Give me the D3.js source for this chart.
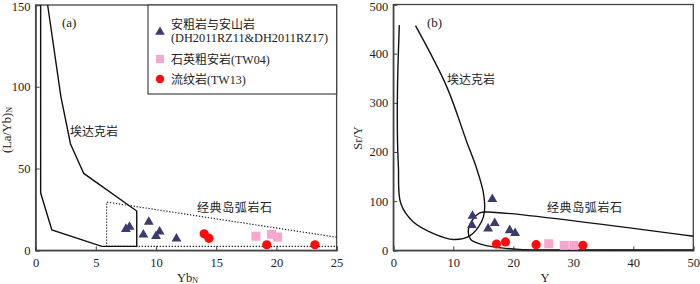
<!DOCTYPE html>
<html>
<head>
<meta charset="utf-8">
<script src="https://cdn.jsdelivr.net/npm/d3@7"></script>
<style>
  body { margin: 0; background: #fff; }
  text { font-family: "Liberation Serif", "Noto Sans CJK SC", serif; fill: #222; }
</style>
</head>
<body>
<div id="chart-area"></div>
<script>
// ---- data ----
// panel (a): YbN vs (La/Yb)N
var andesiteA = [[7.5,13.6],[7.8,14.9],[9.4,17.9],[8.95,10.2],[10.0,9.2],[10.3,12.0],[11.7,7.7]];
var trachyA   = [[18.3,8.6],[19.6,9.8],[20.1,8.1]];
var rhyoliteA = [[14.0,10.1],[14.4,7.3],[19.2,3.4],[23.2,3.4]];
var adakiteA  = [[1.0,150],[2.1,94],[2.9,65],[4.0,47],[8.4,24],[8.4,2.5],[5.5,2.4],[1.35,12.5],[0.42,35],[0.42,150]];
var arcA      = [[25,8],[5.9,29.5],[5.9,2.4],[25,2.4]];
var xTicksA = [0,5,10,15,20,25];
var yTicksA = [0,50,100,150];

// panel (b): Y vs Sr/Y
var andesiteB = [[16.5,106],[13.2,72],[13.1,53],[16.9,57],[15.8,46],[19.4,42.7],[20.3,37]];
var trachyB   = [[25.9,13.4],[28.5,10],[30.1,10]];
var rhyoliteB = [[17.2,12.8],[18.7,17],[23.8,11.4],[31.6,10.2]];
var adakiteB  = [[1.0,458],[0.7,330],[0.7,224],[0.85,170],[1.25,95],[3.3,58],[6.7,34],[10,22],[12.8,30],[14.7,58],[15.2,80],[15.0,118],[13.9,166],[12.2,222],[8.9,333],[3.7,457]];
var arcB      = [[50,28.5],[15.6,78],[14.4,76],[13.2,62],[12.5,40],[12.9,22],[15,11],[18,5],[21,1.8],[24,0.8],[50,0.8]];
var xTicksB = [0,10,20,30,40,50];
var yTicksB = [0,100,200,300,400,500];

var legendItems = [
    { name: "安粗岩与安山岩", sub: "(DH2011RZ11&DH2011RZ17)", kind: "tri" },
    { name: "石英粗安岩(TW04)", kind: "sq" },
    { name: "流纹岩(TW13)", kind: "dot" }
];

var colTri = "#3b3b6d", colSq = "#f7a6cd", colDot = "#ff0a0a";

var svg = d3.select("#chart-area")
    .append("svg")
        .attr("width", 700)
        .attr("height", 284);

// builds a panel frame with inward ticks
function panel(x, y, xTicks, yTicks) {
    var g = svg.append("g");
    g.append("g")
        .attr("transform", "translate(0," + y.range()[0] + ")")
        .call(d3.axisBottom(x).tickValues(xTicks).tickSize(-4).tickPadding(8));
    var yAx = g.append("g")
        .attr("transform", "translate(" + x.range()[0] + ",0)")
        .call(d3.axisLeft(y).tickValues(yTicks).tickSize(-4).tickPadding(5));
    // keep the top tick label inside the picture
    var top = yTicks[yTicks.length - 1];
    yAx.selectAll(".tick text").filter(function(d){ return d === top; }).attr("dy", "0.45em");
    g.append("rect")
        .attr("x", x.range()[0]).attr("y", y.range()[1])
        .attr("width", x.range()[1] - x.range()[0])
        .attr("height", y.range()[0] - y.range()[1])
        .attr("fill", "none").attr("stroke", "#444").attr("stroke-width", 1.3);
    g.selectAll(".domain").attr("stroke", "#444").attr("stroke-width", 1.3);
    g.selectAll(".tick line").attr("stroke", "#444");
    g.selectAll(".tick text")
        .attr("font-size", "12.5px")
        .attr("font-family", "Liberation Serif")
        .attr("fill", "#222");
    return g;
}

function points(g, x, y, tri, sq, dot) {
    g.selectAll(".tri").data(tri).enter().append("path")
        .attr("d", d3.symbol(d3.symbolTriangle).size(42))
        .attr("transform", function(d){ return "translate(" + x(d[0]) + "," + (y(d[1]) + 1) + ")"; })
        .attr("fill", colTri);
    g.selectAll(".sq").data(sq).enter().append("rect")
        .attr("x", function(d){ return x(d[0]) - 4.5; })
        .attr("y", function(d){ return y(d[1]) - 4.5; })
        .attr("width", 9).attr("height", 9)
        .attr("fill", colSq);
    g.selectAll(".dot").data(dot).enter().append("circle")
        .attr("cx", function(d){ return x(d[0]); })
        .attr("cy", function(d){ return y(d[1]); })
        .attr("r", 4.6)
        .attr("fill", colDot);
}

// ---------- panel (a) ----------
var xa = d3.scaleLinear().domain([0, 25]).range([35.6, 336.6]);
var ya = d3.scaleLinear().domain([0, 150]).range([250.3, 5]);
var ga = panel(xa, ya, xTicksA, yTicksA);

var lineA = d3.line().x(function(d){ return xa(d[0]); }).y(function(d){ return ya(d[1]); });
ga.append("path").attr("d", lineA(arcA))
    .attr("fill", "none").attr("stroke", "#222")
    .attr("stroke-width", 1.2).attr("stroke-dasharray", "1.3,1.7");
ga.append("path").attr("d", lineA(adakiteA))
    .attr("fill", "none").attr("stroke", "#111").attr("stroke-width", 1.4);

points(ga, xa, ya, andesiteA, trachyA, rhyoliteA);

ga.append("text").attr("x", 62).attr("y", 27).attr("font-size", "13px").text("(a)");
ga.append("text").attr("x", 70).attr("y", 136).attr("font-size", "12px").text("埃达克岩");
ga.append("text").attr("x", 197).attr("y", 212).attr("font-size", "12px")
    .attr("letter-spacing", "0.6px").text("经典岛弧岩石");

// legend
var legend = ga.append("g");
legend.append("rect")
    .attr("x", 148).attr("y", 5).attr("width", 188.6).attr("height", 89)
    .attr("fill", "#fff").attr("stroke", "#444").attr("stroke-width", 1.2);
var rowsY = [32, 59, 79];
legendItems.forEach(function(item, i){
    var row = legend.append("g").attr("transform", "translate(160," + rowsY[i] + ")");
    if (item.kind == "tri") {
        row.append("path").attr("d", d3.symbol(d3.symbolTriangle).size(40)).attr("fill", colTri);
        row.append("text").attr("x", 11).attr("y", -3).attr("font-size", "12px").text(item.name);
        row.append("text").attr("x", 11).attr("y", 10).attr("font-size", "12.3px").text(item.sub);
    } else if (item.kind == "sq") {
        row.append("rect").attr("x", -4).attr("y", -4).attr("width", 8).attr("height", 8).attr("fill", colSq);
        row.append("text").attr("x", 11).attr("y", 4.5).attr("font-size", "12px").text(item.name);
    } else {
        row.append("circle").attr("r", 4.2).attr("fill", colDot);
        row.append("text").attr("x", 11).attr("y", 4.5).attr("font-size", "12px").text(item.name);
    }
});

// axis labels (a)
var xLabA = ga.append("text").attr("x", 177).attr("y", 282).attr("font-size", "12.5px");
xLabA.append("tspan").text("Yb");
xLabA.append("tspan").attr("font-size", "8px").attr("dy", 1).text("N");
var yLabA = ga.append("text")
    .attr("transform", "translate(11,130) rotate(-90)")
    .attr("text-anchor", "middle").attr("font-size", "12.5px");
yLabA.append("tspan").text("(La/Yb)");
yLabA.append("tspan").attr("font-size", "8px").attr("dy", 1).text("N");

// ---------- panel (b) ----------
var xb = d3.scaleLinear().domain([0, 50]).range([393.3, 693.3]);
var yb = d3.scaleLinear().domain([0, 500]).range([250.3, 4.5]);
var gb = panel(xb, yb, xTicksB, yTicksB);

var lineB = d3.line().curve(d3.curveCatmullRom.alpha(0.5))
    .x(function(d){ return xb(d[0]); }).y(function(d){ return yb(d[1]); });
gb.append("path").attr("d", lineB(adakiteB))
    .attr("fill", "none").attr("stroke", "#111").attr("stroke-width", 1.4);
gb.append("path").attr("d", lineB(arcB))
    .attr("fill", "none").attr("stroke", "#111").attr("stroke-width", 1.4);

points(gb, xb, yb, andesiteB, trachyB, rhyoliteB);

gb.append("text").attr("x", 427).attr("y", 27).attr("font-size", "13px").text("(b)");
gb.append("text").attr("x", 447).attr("y", 84).attr("font-size", "12px").text("埃达克岩");
gb.append("text").attr("x", 547).attr("y", 212).attr("font-size", "12px")
    .attr("letter-spacing", "0.6px").text("经典岛弧岩石");

gb.append("text").attr("x", 545).attr("y", 282).attr("text-anchor", "middle")
    .attr("font-size", "12.5px").text("Y");
gb.append("text").attr("transform", "translate(362,138) rotate(-90)")
    .attr("text-anchor", "middle").attr("font-size", "12.5px").text("Sr/Y");
</script>
</body>
</html>
